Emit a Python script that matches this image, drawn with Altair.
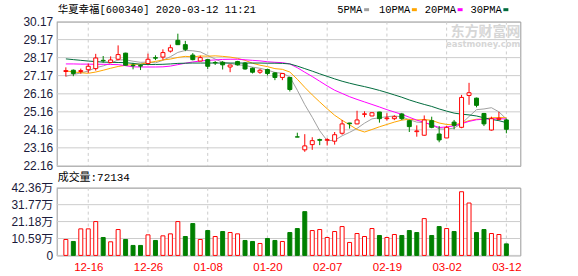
import json
import altair as alt
import pandas as pd

# ---------------- data ----------------
dates = ["12-11","12-12","12-13","12-16","12-17","12-18","12-19","12-20","12-23","12-24",
         "12-25","12-26","12-27","12-30","12-31","01-02","01-03","01-06","01-07","01-08",
         "01-09","01-10","01-13","01-14","01-15","01-16","01-17","01-20","01-21","01-22",
         "01-23","02-03","02-04","02-05","02-06","02-07","02-10","02-11","02-12","02-13",
         "02-14","02-17","02-18","02-19","02-20","02-21","02-24","02-25","02-26","02-27",
         "02-28","03-02","03-03","03-04","03-05","03-06","03-09","03-10","03-11","03-12"]

opens = [27.40,27.47,27.40,27.50,27.56,28.02,27.90,28.08,28.42,27.75,
         27.73,27.84,28.17,28.20,28.53,29.13,28.89,28.31,27.98,28.06,
         27.90,27.91,27.65,27.95,27.87,27.58,27.36,27.51,27.32,27.07,
         27.07,23.77,23.05,23.34,23.62,23.58,23.53,23.97,24.54,24.49,
         25.02,24.93,25.15,24.78,24.78,25.04,24.67,24.06,23.86,24.67,
         23.93,23.71,24.59,24.30,26.07,25.92,25.07,24.15,24.74,24.71]
highs = [27.63,27.51,27.56,27.84,28.38,28.26,28.24,28.85,28.44,27.88,
         27.80,28.39,28.30,28.63,28.89,29.50,29.10,28.42,28.28,28.09,
         27.98,27.98,27.78,27.99,27.93,27.62,27.54,27.56,27.36,27.31,
         27.10,24.00,23.92,23.75,23.67,23.70,24.04,24.71,24.55,25.22,
         25.19,25.13,25.16,25.08,24.97,25.10,24.72,24.41,24.96,24.89,
         24.37,24.37,24.71,26.10,26.77,25.95,25.10,24.89,25.16,24.78]
lows = [27.12,27.14,27.28,27.32,27.45,27.89,27.88,28.02,27.74,27.52,
        27.48,27.82,28.03,28.05,28.45,28.87,28.53,28.02,27.97,27.54,
        27.76,27.51,27.36,27.73,27.50,27.29,27.27,27.18,26.92,26.92,
        26.29,23.76,22.94,23.05,23.31,23.29,23.34,23.89,24.23,24.47,
        24.86,24.92,24.56,24.67,24.70,24.70,24.04,23.78,23.84,24.25,
        23.47,23.70,24.19,24.25,25.55,25.41,24.37,24.12,24.70,23.97]
closes = [27.45,27.29,27.45,27.69,28.15,27.99,28.04,28.34,27.75,27.72,
          27.70,28.08,28.14,28.45,28.72,28.89,28.63,28.06,28.17,27.69,
          27.88,27.77,27.76,27.77,27.54,27.36,27.47,27.29,27.07,27.29,
          26.40,23.76,23.27,23.56,23.58,23.62,23.89,24.49,24.50,24.71,
          25.05,25.11,24.78,24.82,24.89,24.78,24.34,24.10,24.71,24.30,
          23.60,24.30,24.41,25.96,26.22,25.52,24.49,24.78,24.80,24.19]

# volume in 万 (10k) and its colour (1 = up / red hollow, 0 = down / green)
vols = [9.97,8.72,16.61,16.61,21.18,11.21,8.51,16.19,9.97,6.23,
        6.23,12.87,9.34,12.25,13.49,21.18,11.83,19.93,9.97,15.57,
        11.83,14.95,14.32,13.49,9.34,8.72,7.47,10.59,9.34,8.72,
        14.32,16.82,27.40,15.57,16.19,11.21,14.95,18.06,8.10,13.70,
        11.83,16.82,12.46,11.21,13.08,12.46,15.57,14.32,23.04,12.46,
        18.06,16.82,14.95,39.86,32.80,14.32,16.19,13.70,13.08,7.21]
vol_up = [1,0,1,1,1,0,1,1,0,0, 0,1,0,1,1,1,0,0,1,0,
          1,0,1,1,0,0,1,0,0,1, 0,0,0,1,1,1,1,1,1,1,
          1,1,0,1,1,0,0,0,1,0, 0,1,0,1,1,0,0,1,1,0]

ma5 = [27.14,27.23,27.32,27.43,27.61,27.71,27.86,28.04,28.05,27.97,
       27.91,27.92,27.88,28.02,28.22,28.46,28.57,28.55,28.49,28.29,
       28.09,27.91,27.85,27.77,27.74,27.64,27.58,27.48,27.35,27.30,
       27.10,26.36,25.56,24.86,24.11,23.56,23.58,23.83,24.02,24.24,
       24.53,24.77,24.83,24.89,24.93,24.88,24.72,24.59,24.56,24.45,
       24.21,24.20,24.26,24.51,24.90,25.28,25.32,25.39,25.16,24.76]
ma10 = [27.43,27.38,27.33,27.30,27.37,27.47,27.58,27.68,27.74,27.79,
        27.81,27.89,27.96,28.04,28.09,28.18,28.24,28.21,28.26,28.25,
        28.27,28.24,28.20,28.13,28.02,27.86,27.75,27.67,27.56,27.52,
        27.37,26.97,26.52,26.10,25.71,25.33,24.97,24.69,24.44,24.18,
        24.04,24.18,24.33,24.46,24.59,24.70,24.75,24.71,24.73,24.69,
        24.54,24.46,24.43,24.54,24.67,24.75,24.76,24.83,24.84,24.83]
ma20 = [27.82,27.82,27.81,27.81,27.80,27.80,27.79,27.78,27.72,27.66,
        27.65,27.65,27.65,27.66,27.70,27.78,27.86,27.93,27.98,28.02,
        28.04,28.07,28.08,28.08,28.05,28.02,27.99,27.94,27.91,27.89,
        27.82,27.61,27.36,27.12,26.86,26.60,26.36,26.18,26.00,25.85,
        25.71,25.57,25.43,25.28,25.15,25.02,24.86,24.70,24.58,24.43,
        24.29,24.32,24.38,24.50,24.63,24.72,24.75,24.77,24.78,24.76]
ma30 = [28.10,28.06,28.02,27.98,27.95,27.92,27.91,27.90,27.89,27.85,
        27.80,27.79,27.79,27.80,27.82,27.85,27.86,27.87,27.87,27.87,
        27.87,27.87,27.87,27.87,27.87,27.87,27.87,27.86,27.86,27.85,
        27.82,27.70,27.56,27.42,27.27,27.13,26.99,26.86,26.75,26.65,
        26.56,26.46,26.35,26.23,26.10,25.97,25.82,25.69,25.57,25.46,
        25.32,25.20,25.09,25.03,24.99,24.93,24.83,24.74,24.67,24.56]

ma_names = ["5PMA", "10PMA", "20PMA", "30PMA"]
ma_colors = ["#a0a0a0", "#ffa500", "#ff00ff", "#006b3c"]

price_ticks = [22.16, 23.16, 24.16, 25.16, 26.16, 27.17, 28.17, 29.17, 30.17]
vol_ticks = [0, 10.59, 21.18, 31.77, 42.36]
date_ticks = [3, 11, 19, 27, 35, 43, 51, 59]

title_text = "华夏幸福[600340] 2020-03-12 11:21"
vol_title = "成交量:72134"

# ---------------- tables ----------------
n = len(dates)
idx = list(range(n))
candles = pd.DataFrame({"i": idx, "open": opens, "high": highs, "low": lows, "close": closes})
candles["dir"] = ["up" if c >= o else "down" for o, c in zip(opens, closes)]
vol_df = pd.DataFrame({"i": idx, "vol": vols, "dir": ["up" if u else "down" for u in vol_up]})
rows = []
for name, arr in zip(ma_names, [ma5, ma10, ma20, ma30]):
    for i, v in enumerate(arr):
        rows.append({"i": i, "v": v, "s": name})
ma_df = pd.DataFrame(rows)
pgrid = pd.DataFrame({"p": price_ticks})
vgrid = pd.DataFrame({"p": vol_ticks})
dgrid = pd.DataFrame({"i": date_ticks})

RED, GREEN = "#ff0000", "#008000"
stroke_scale = alt.Scale(domain=["up", "down"], range=[RED, GREEN])
fill_scale = alt.Scale(domain=["up", "down"], range=["#ffffff", GREEN])
X_DOMAIN = [-0.56, 60.2]
W, H1, H2 = 466, 145, 68

NUM_FONT = "Liberation Sans"
TXT_FONT = "'Liberation Mono', 'Noto Sans CJK SC'"
GRID = "#cccccc"

x_scale = alt.Scale(domain=X_DOMAIN, nice=False, zero=False)
x_axis_top = alt.Axis(values=date_ticks, grid=False, labels=False, ticks=False,
                      domain=False, title=None)
x_axis_bot = alt.Axis(values=date_ticks, grid=False, ticks=False, domain=False, title=None,
                      labelColor=RED, labelFont=NUM_FONT, labelFontSize=11.5, labelPadding=6,
                      labelOverlap=False,
                      labelExpr=json.dumps(dates) + "[datum.value]")
y_price_scale = alt.Scale(domain=[22.16, 30.17], nice=False, zero=False)
y_price_axis = alt.Axis(values=price_ticks, format=".2f", grid=False,
                        ticks=False, domain=False, labelPadding=4, title=None,
                        labelFont=NUM_FONT, labelFontSize=12, labelColor="#1a1a3a",
                        labelOverlap=False, labelBound=False, labelFlush=False)
y_vol_scale = alt.Scale(domain=[0, 42.36], nice=False, zero=True)
y_vol_axis = alt.Axis(values=vol_ticks, grid=False, ticks=False,
                      domain=False, labelPadding=4, title=None, labelOverlap=False,
                      labelFont="'Liberation Sans', 'Noto Sans CJK SC'", labelFontSize=12,
                      labelColor="#1a1a3a",
                      labelExpr="datum.value == 0 ? '0' : format(datum.value, '.2f') + '万'")

# ---------------- price panel ----------------
xt = alt.X("i:Q", scale=x_scale, axis=x_axis_top)
hgrid_top = alt.Chart(pgrid).mark_rule(color=GRID, strokeWidth=1).encode(
    y=alt.Y("p:Q", scale=y_price_scale, axis=y_price_axis))
vgrid_top = alt.Chart(dgrid).mark_rule(color=GRID, strokeWidth=1, strokeDash=[3, 3]).encode(
    x=xt)
ma_layer = alt.Chart(ma_df).mark_line(strokeWidth=1).encode(
    x=xt,
    y=alt.Y("v:Q", scale=y_price_scale, axis=y_price_axis),
    color=alt.Color("s:N", scale=alt.Scale(domain=ma_names, range=ma_colors), legend=None),
)
wicks = alt.Chart(candles).mark_rule(strokeWidth=1).encode(
    x=xt,
    y=alt.Y("low:Q", scale=y_price_scale, axis=y_price_axis),
    y2="high:Q",
    stroke=alt.Stroke("dir:N", scale=stroke_scale, legend=None),
)
bodies = alt.Chart(candles).mark_bar(size=4, strokeWidth=1).encode(
    x=xt,
    y=alt.Y("open:Q", scale=y_price_scale, axis=y_price_axis),
    y2="close:Q",
    fill=alt.Fill("dir:N", scale=fill_scale, legend=None),
    stroke=alt.Stroke("dir:N", scale=stroke_scale, legend=None),
)

one = pd.DataFrame({"t": [title_text]})
title_mark = alt.Chart(one).mark_text(align="left", baseline="middle", font=TXT_FONT,
                                      fontSize=10.5, color="#000000").encode(
    x=alt.value(1), y=alt.value(-12), text="t:N")

legend_layers = []
legend_x = [282, 324, 370, 416]
square_x = [309, 357, 403, 449]
for name, col, lx, sx in zip(ma_names, ma_colors, legend_x, square_x):
    d = pd.DataFrame({"t": [name]})
    legend_layers.append(
        alt.Chart(d).mark_text(align="left", baseline="middle", font=TXT_FONT,
                               fontSize=10.5, color="#000000").encode(
            x=alt.value(lx), y=alt.value(-12), text="t:N"))
    legend_layers.append(
        alt.Chart(d).mark_rect(color=col).encode(
            x=alt.value(sx), x2=alt.value(sx + 5), y=alt.value(-13.5), y2=alt.value(-10.5)))

wm = pd.DataFrame({"t": ["东方财富网"], "u": ["eastmoney.com"]})
wm1 = alt.Chart(wm).mark_text(align="right", baseline="middle", font="Noto Sans CJK SC",
                              fontSize=14, fontWeight="bold", color="#d6d6d6").encode(
    x=alt.value(466), y=alt.value(10), text="t:N")
wm2 = alt.Chart(wm).mark_text(align="right", baseline="middle", font="DejaVu Sans",
                              fontSize=8.5, fontWeight="bold", color="#d6d6d6").encode(
    x=alt.value(466), y=alt.value(23), text="u:N")

top = alt.layer(hgrid_top, vgrid_top, ma_layer, wicks, bodies, title_mark, wm1, wm2,
                *legend_layers).properties(width=W, height=H1)

# ---------------- volume panel ----------------
xb = alt.X("i:Q", scale=x_scale, axis=x_axis_bot)
hgrid_bot = alt.Chart(vgrid).mark_rule(color=GRID, strokeWidth=1).encode(
    y=alt.Y("p:Q", scale=y_vol_scale, axis=y_vol_axis))
vgrid_bot = alt.Chart(dgrid).mark_rule(color=GRID, strokeWidth=1, strokeDash=[3, 3]).encode(
    x=xb)
vbars = alt.Chart(vol_df).mark_bar(size=4, strokeWidth=1).encode(
    x=xb,
    y=alt.Y("vol:Q", scale=y_vol_scale, axis=y_vol_axis),
    fill=alt.Fill("dir:N", scale=fill_scale, legend=None),
    stroke=alt.Stroke("dir:N", scale=stroke_scale, legend=None),
)
vt = pd.DataFrame({"t": [vol_title]})
vol_label = alt.Chart(vt).mark_text(align="left", baseline="middle", font=TXT_FONT,
                                    fontSize=11, color="#000000").encode(
    x=alt.value(1), y=alt.value(-10), text="t:N")
bottom = alt.layer(hgrid_bot, vgrid_bot, vbars, vol_label).properties(width=W, height=H2)

chart = alt.vconcat(top, bottom, spacing=22, bounds="flush").resolve_scale(
    x="independent", y="independent"
).properties(
    padding={"left": 10, "top": 3, "right": 56, "bottom": 5},
    background="#ffffff",
).configure_view(stroke="#999999", strokeWidth=1)

chart.save("out.html", embed_options={"renderer": "svg", "actions": False})
